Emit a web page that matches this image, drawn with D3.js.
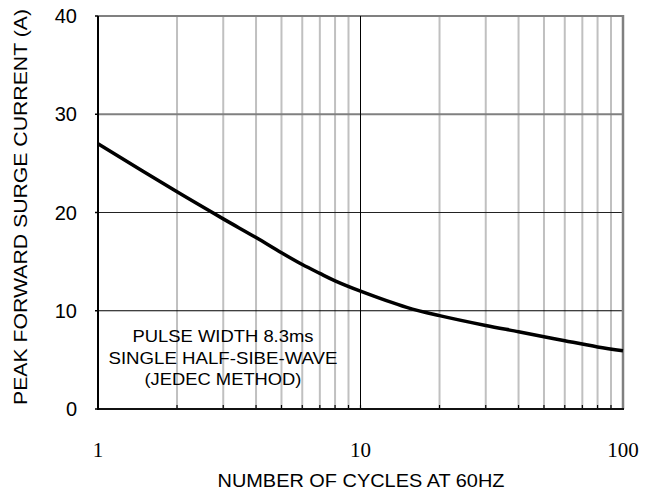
<!DOCTYPE html>
<html>
<head>
<meta charset="utf-8">
<script src="https://cdn.jsdelivr.net/npm/d3@7"></script>
<style>
  body { margin: 0; background: #fff; }
  svg { display: block; }
</style>
</head>
<body>
<div class="canvas"></div>
<script>
// surge curve
var cycles = [1, 2, 3, 4, 5, 6, 7, 8, 10, 15, 20, 30, 40, 50, 60, 80, 100];
var current = [27, 22.1, 19.35, 17.45, 15.9, 14.7, 13.8, 13.05, 12, 10.35, 9.5, 8.5, 7.87, 7.36, 6.95, 6.32, 5.93];
var yTicks = [0, 10, 20, 30, 40];
var xLabels = [1, 10, 100];
var noteLines = ["PULSE WIDTH 8.3ms", "SINGLE HALF-SIBE-WAVE", "(JEDEC METHOD)"];

(function drawChart() {
  var width = 654, height = 496;
  var m = { left: 98, right: 623, top: 16, bottom: 409 };
  var sans = "Liberation Sans, Arial, sans-serif";

  var svg = d3.select(".canvas").append("svg")
    .attr("width", width).attr("height", height);

  var xScale = d3.scaleLog().domain([1, 100]).range([m.left, m.right]);
  var yScale = d3.scaleLinear().domain([0, 40]).range([m.bottom, m.top]);

  // minor vertical grid
  var minor = [];
  [1, 10].forEach(function (dec) {
    for (var k = 2; k <= 9; k++) minor.push(dec * k);
  });
  svg.append("g").selectAll("line").data(minor).enter().append("line")
    .attr("x1", d => xScale(d)).attr("x2", d => xScale(d))
    .attr("y1", m.top).attr("y2", m.bottom)
    .attr("stroke", "#c0c0c0").attr("stroke-width", 2);

  // horizontal grid
  var hStyle = { 10: ["#000", 1], 20: ["#222", 1], 30: ["#808080", 2], 40: ["#808080", 2] };
  svg.append("g").selectAll("line").data([10, 20, 30, 40]).enter().append("line")
    .attr("x1", m.left).attr("x2", m.right)
    .attr("y1", d => yScale(d)).attr("y2", d => yScale(d))
    .attr("stroke", d => hStyle[d][0]).attr("stroke-width", d => hStyle[d][1]);

  // decade line at 10
  svg.append("line")
    .attr("x1", xScale(10)).attr("x2", xScale(10))
    .attr("y1", m.top).attr("y2", m.bottom)
    .attr("stroke", "#000").attr("stroke-width", 1);

  // right border
  svg.append("line")
    .attr("x1", m.right).attr("x2", m.right).attr("y1", m.top - 1).attr("y2", m.bottom)
    .attr("stroke", "#808080").attr("stroke-width", 2.5);

  // bottom ticks (inside)
  svg.append("g").selectAll("line").data(minor.concat([10])).enter().append("line")
    .attr("x1", d => xScale(d)).attr("x2", d => xScale(d))
    .attr("y1", m.bottom).attr("y2", m.bottom - 4)
    .attr("stroke", "#000").attr("stroke-width", 1.2);

  // axes
  svg.append("line")
    .attr("x1", m.left).attr("x2", m.right + 1).attr("y1", m.bottom).attr("y2", m.bottom)
    .attr("stroke", "#111").attr("stroke-width", 2);
  svg.append("line")
    .attr("x1", m.left).attr("x2", m.left).attr("y1", m.top).attr("y2", m.bottom + 1)
    .attr("stroke", "#000").attr("stroke-width", 2);

  // left ticks
  svg.append("g").selectAll("line").data(yTicks).enter().append("line")
    .attr("x1", m.left - 3).attr("x2", m.left)
    .attr("y1", d => yScale(d)).attr("y2", d => yScale(d))
    .attr("stroke", "#000").attr("stroke-width", 1.5);

  // y labels
  svg.append("g").selectAll("text").data(yTicks).enter().append("text")
    .attr("x", 77).attr("y", d => yScale(d))
    .attr("dy", "0.36em")
    .attr("text-anchor", "end")
    .style("font-family", sans)
    .style("font-size", "20px")
    .text(d => d);

  // x labels (serif)
  svg.append("g").selectAll("text").data(xLabels).enter().append("text")
    .attr("x", d => xScale(d)).attr("y", 457)
    .attr("text-anchor", "middle")
    .style("font-family", "Liberation Serif, Times New Roman, serif")
    .style("font-size", "21px")
    .text(d => d);

  // axis titles
  svg.append("text")
    .attr("x", 361).attr("y", 487)
    .attr("text-anchor", "middle")
    .attr("textLength", 287).attr("lengthAdjust", "spacingAndGlyphs")
    .style("font-family", sans)
    .style("font-size", "18px")
    .text("NUMBER OF CYCLES AT 60HZ");

  svg.append("text")
    .attr("transform", "translate(27,207) rotate(-90)")
    .attr("text-anchor", "middle")
    .attr("textLength", 396).attr("lengthAdjust", "spacingAndGlyphs")
    .style("font-family", sans)
    .style("font-size", "18.5px")
    .text("PEAK FORWARD SURGE CURRENT (A)");

  // note
  var noteWidths = [181, 229, 157];
  svg.append("g").selectAll("text").data(noteLines).enter().append("text")
    .attr("x", 223).attr("y", (d, i) => 342 + i * 21.5)
    .attr("text-anchor", "middle")
    .attr("textLength", (d, i) => noteWidths[i]).attr("lengthAdjust", "spacingAndGlyphs")
    .style("font-family", sans)
    .style("font-size", "17px")
    .text(d => d);

  // curve
  var data = cycles.map((c, i) => ({ x: c, y: current[i] }));
  var line = d3.line()
    .x(d => xScale(d.x))
    .y(d => yScale(d.y))
    .curve(d3.curveCatmullRom);
  svg.append("path")
    .attr("d", line(data))
    .attr("fill", "none")
    .attr("stroke", "#000")
    .attr("stroke-width", 3.5);
})();
</script>
</body>
</html>
